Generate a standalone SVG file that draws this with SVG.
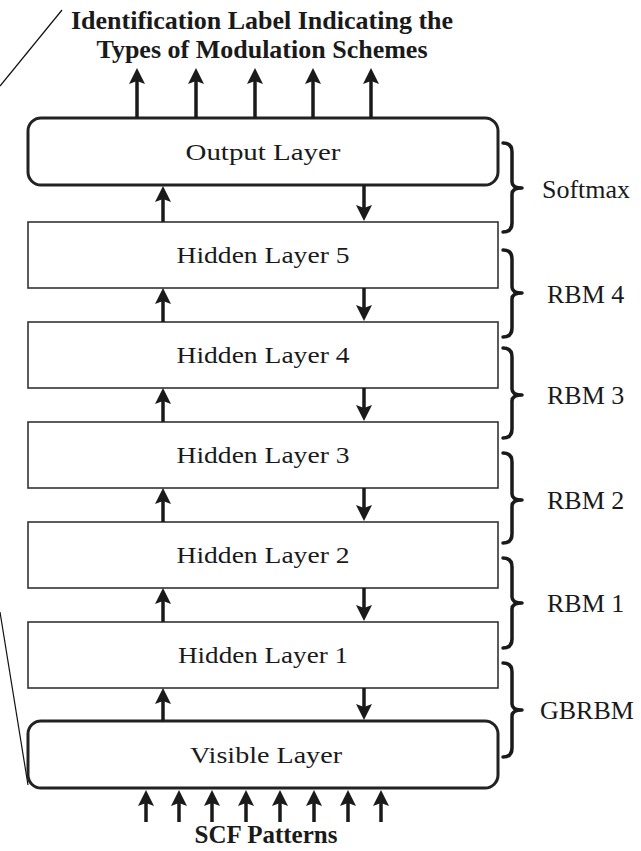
<svg xmlns="http://www.w3.org/2000/svg" width="641" height="851" viewBox="0 0 641 851">
<defs>
<marker id="ah" viewBox="0 0 16 16" refX="8" refY="8" markerWidth="16" markerHeight="16" markerUnits="userSpaceOnUse" orient="auto">
<path d="M0,0 L16,8 L0,16 L3,8 z" fill="#1a1a1a"/>
</marker>
<style>
.title{font-family:"Liberation Serif",serif;font-weight:bold;font-size:26px;fill:#1a1a1a;text-anchor:middle}
.lbl{font-family:"Liberation Serif",serif;font-size:23px;fill:#1a1a1a;text-anchor:middle}
.side{font-family:"Liberation Serif",serif;font-size:26px;fill:#1a1a1a}
.rbox{fill:#fff;stroke:#222;stroke-width:3}
.box{fill:#fff;stroke:#333;stroke-width:1.6}
.arr{stroke:#1a1a1a;stroke-width:3.5;fill:none;marker-end:url(#ah)}
.brace{stroke:#1a1a1a;stroke-width:3.5;fill:none;stroke-linecap:round;stroke-linejoin:round}
.thin{stroke:#111;stroke-width:1.2;fill:none}
</style>
</defs>
<rect width="641" height="851" fill="#fff"/>
<line class="thin" x1="62" y1="10" x2="0" y2="86"/>
<line class="thin" x1="0" y1="612" x2="28" y2="785"/>
<g id="title">
<text class="title" x="262" y="29">Identification Label Indicating the</text>
<text class="title" x="262" y="58">Types of Modulation Schemes</text>
</g>
<g id="output-layer">
<rect class="rbox" x="28" y="118" width="470" height="67" rx="13"/>
<text class="lbl" x="263" y="160" textLength="155" lengthAdjust="spacingAndGlyphs">Output Layer</text>
</g>
<g id="hidden-5">
<rect class="box" x="28" y="222" width="470" height="66"/>
<text class="lbl" x="263" y="263" textLength="173" lengthAdjust="spacingAndGlyphs">Hidden Layer 5</text>
</g>
<g id="hidden-4">
<rect class="box" x="28" y="322" width="470" height="66"/>
<text class="lbl" x="263" y="363" textLength="173" lengthAdjust="spacingAndGlyphs">Hidden Layer 4</text>
</g>
<g id="hidden-3">
<rect class="box" x="28" y="422" width="470" height="66"/>
<text class="lbl" x="263" y="463" textLength="173" lengthAdjust="spacingAndGlyphs">Hidden Layer 3</text>
</g>
<g id="hidden-2">
<rect class="box" x="28" y="522" width="470" height="66"/>
<text class="lbl" x="263" y="563" textLength="173" lengthAdjust="spacingAndGlyphs">Hidden Layer 2</text>
</g>
<g id="hidden-1">
<rect class="box" x="28" y="622" width="470" height="66"/>
<text class="lbl" x="263" y="663" textLength="170" lengthAdjust="spacingAndGlyphs">Hidden Layer 1</text>
</g>
<g id="visible-layer">
<rect class="rbox" x="28" y="721" width="470" height="67" rx="13"/>
<text class="lbl" x="266" y="763" textLength="152" lengthAdjust="spacingAndGlyphs">Visible Layer</text>
</g>
<g id="scf-patterns">
<text class="title" x="266" y="843" style="font-size:25px">SCF Patterns</text>
</g>
<g id="connectors">
<line class="arr" x1="137" y1="118" x2="137" y2="76"/>
<line class="arr" x1="196" y1="118" x2="196" y2="76"/>
<line class="arr" x1="255" y1="118" x2="255" y2="76"/>
<line class="arr" x1="313" y1="118" x2="313" y2="76"/>
<line class="arr" x1="371" y1="118" x2="371" y2="76"/>
<line class="arr" x1="163" y1="222" x2="163" y2="194"/>
<line class="arr" x1="364" y1="185" x2="364" y2="213"/>
<line class="arr" x1="163" y1="322" x2="163" y2="296"/>
<line class="arr" x1="364" y1="288" x2="364" y2="313"/>
<line class="arr" x1="163" y1="422" x2="163" y2="396"/>
<line class="arr" x1="364" y1="388" x2="364" y2="413"/>
<line class="arr" x1="163" y1="522" x2="163" y2="496"/>
<line class="arr" x1="364" y1="488" x2="364" y2="513"/>
<line class="arr" x1="163" y1="622" x2="163" y2="596"/>
<line class="arr" x1="364" y1="588" x2="364" y2="613"/>
<line class="arr" x1="163" y1="721" x2="163" y2="696"/>
<line class="arr" x1="364" y1="688" x2="364" y2="712"/>
<line class="arr" x1="146" y1="822" x2="146" y2="798"/>
<line class="arr" x1="179" y1="822" x2="179" y2="798"/>
<line class="arr" x1="212" y1="822" x2="212" y2="798"/>
<line class="arr" x1="246" y1="822" x2="246" y2="798"/>
<line class="arr" x1="280" y1="822" x2="280" y2="798"/>
<line class="arr" x1="314" y1="822" x2="314" y2="798"/>
<line class="arr" x1="348" y1="822" x2="348" y2="798"/>
<line class="arr" x1="381" y1="822" x2="381" y2="798"/>
</g>
<g id="softmax">
<path class="brace" d="M503,143 Q512,143 512,152 L512,182 Q512,188 522,188 Q512,188 512,194 L512,223 Q512,232 503,232"/>
<text class="side" x="542" y="198">Softmax</text>
</g>
<g id="rbm4">
<path class="brace" d="M503,250 Q512,250 512,259 L512,287 Q512,293 522,293 Q512,293 512,299 L512,328 Q512,337 503,337"/>
<text class="side" x="547" y="303">RBM 4</text>
</g>
<g id="rbm3">
<path class="brace" d="M503,348 Q512,348 512,357 L512,389 Q512,395 522,395 Q512,395 512,401 L512,429 Q512,438 503,438"/>
<text class="side" x="547" y="404">RBM 3</text>
</g>
<g id="rbm2">
<path class="brace" d="M503,453 Q512,453 512,462 L512,494 Q512,500 522,500 Q512,500 512,506 L512,534 Q512,543 503,543"/>
<text class="side" x="547" y="509">RBM 2</text>
</g>
<g id="rbm1">
<path class="brace" d="M503,558 Q512,558 512,567 L512,597 Q512,603 522,603 Q512,603 512,609 L512,639 Q512,648 503,648"/>
<text class="side" x="547" y="612">RBM 1</text>
</g>
<g id="gbrbm">
<path class="brace" d="M503,663 Q512,663 512,672 L512,704 Q512,710 522,710 Q512,710 512,716 L512,748 Q512,757 503,757"/>
<text class="side" x="540" y="719">GBRBM</text>
</g>
</svg>
